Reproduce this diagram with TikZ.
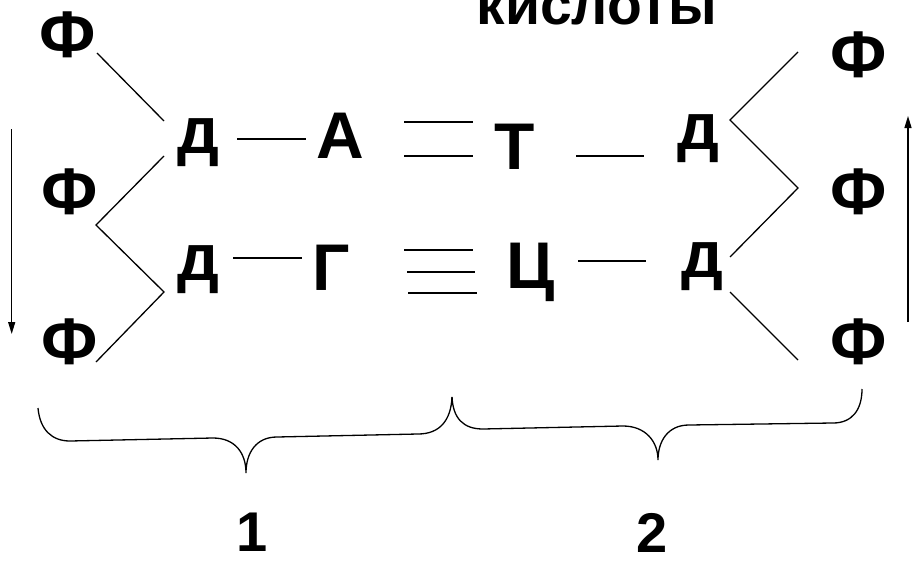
\documentclass[tikz,border=0pt]{standalone}
\usepackage{fontspec}
\setmainfont{Liberation Sans}
\usetikzlibrary{arrows.meta}
\begin{document}
\begin{tikzpicture}[x=1pt,y=-1pt,
  letter/.style={font=\fontsize{66}{72}\selectfont\bfseries, inner sep=0pt, anchor=center},
  num/.style={font=\fontsize{56}{64}\selectfont\bfseries, inner sep=0pt, anchor=center},
  ttl/.style={font=\fontsize{57}{64}\selectfont\bfseries, inner sep=0pt, anchor=base},
  bond/.style={line width=1.3pt},
  flow/.style={line width=1.3pt, -{Triangle[length=12pt,width=7pt]}}]
\useasboundingbox (0,0) rectangle (913,562);
\fill[white] (0,0) rectangle (913,562);

% title fragment
\node[ttl] (kis) at (597,24) {кислоты};

% phosphates
\node[letter] (f1) at (67.5,34.5) {Ф};
\node[letter] (f2) at (70,191.5) {Ф};
\node[letter] (f3) at (70,341.5) {Ф};
\node[letter] (f4) at (859,55) {Ф};
\node[letter] (f5) at (859,192) {Ф};
\node[letter] (f6) at (859,341.5) {Ф};

% sugars
\node[letter] (d1) at (198.5,142.5) {д};
\node[letter] (d2) at (198.5,270) {д};
\node[letter] (d3) at (698.5,138.5) {д};
\node[letter] (d4) at (702.5,266.5) {д};

% bases
\node[letter] (bA) at (340,135.5) {А};
\node[letter] (bG) at (331,268) {Г};
\node[letter] (bT) at (515,146.5) {Т};
\node[letter] (bC) at (531,272.5) {Ц};

% numbers
\node[num] (n1) at (252,532) {1};
\node[num] (n2) at (652.5,533) {2};

% coordinates of line ends
\coordinate (a1) at (97,53);   \coordinate (a2) at (164,121);
\coordinate (z1) at (164,156); \coordinate (z2) at (96,225);
\coordinate (z3) at (164,292); \coordinate (z4) at (96,362);
\coordinate (r1) at (798,52);  \coordinate (r2) at (730,120);
\coordinate (r3) at (798,188); \coordinate (r4) at (730,257);
\coordinate (s1) at (730,292); \coordinate (s2) at (798,360);
\coordinate (h1a) at (237,139); \coordinate (h1b) at (306,139);
\coordinate (h2a) at (233,258); \coordinate (h2b) at (302,258);
\coordinate (h3a) at (576,156); \coordinate (h3b) at (644,156);
\coordinate (h4a) at (578,261); \coordinate (h4b) at (646,261);
\coordinate (p1a) at (404,122); \coordinate (p1b) at (473,122);
\coordinate (p2a) at (404,156); \coordinate (p2b) at (473,156);
\coordinate (q1a) at (404,250); \coordinate (q1b) at (473,250);
\coordinate (q2a) at (407,272); \coordinate (q2b) at (475,272);
\coordinate (q3a) at (408,293); \coordinate (q3b) at (477,293);
\coordinate (la) at (11.7,129); \coordinate (lb) at (11.7,334);
\coordinate (ra) at (908,322);  \coordinate (rb) at (908,116);

% backbone lines
\draw[bond] (a1) -- (a2);
\draw[bond] (z1) -- (z2) -- (z3) -- (z4);
\draw[bond] (r1) -- (r2) -- (r3) -- (r4);
\draw[bond] (s1) -- (s2);

% sugar-base bonds
\draw[bond] (h1a) -- (h1b);
\draw[bond] (h2a) -- (h2b);
\draw[bond] (h3a) -- (h3b);
\draw[bond] (h4a) -- (h4b);

% hydrogen bonds
\draw[bond] (p1a) -- (p1b);
\draw[bond] (p2a) -- (p2b);
\draw[bond] (q1a) -- (q1b);
\draw[bond] (q2a) -- (q2b);
\draw[bond] (q3a) -- (q3b);

% direction arrows
\draw[flow] (la) -- (lb);
\draw[flow] (ra) -- (rb);

% braces
\coordinate (bl0) at (38,408);
\coordinate (bm) at (452,397);
\coordinate (br0) at (862,389);
\draw[bond] (bl0) .. controls (40,430) and (52,441) .. (70,441)
  -- (213,438) .. controls (235,438) and (246,453) .. (246,473)
  .. controls (246,453) and (256,437) .. (277,437)
  -- (418,434) .. controls (440,434) and (451,420) .. (bm);
\draw[bond] (bm) .. controls (453,418) and (463,429) .. (483,429)
  -- (623,426) .. controls (645,426) and (658,441) .. (658,460)
  .. controls (658,441) and (668,425) .. (689,425)
  -- (833,423) .. controls (852,423) and (862,410) .. (br0);
\end{tikzpicture}
\end{document}
